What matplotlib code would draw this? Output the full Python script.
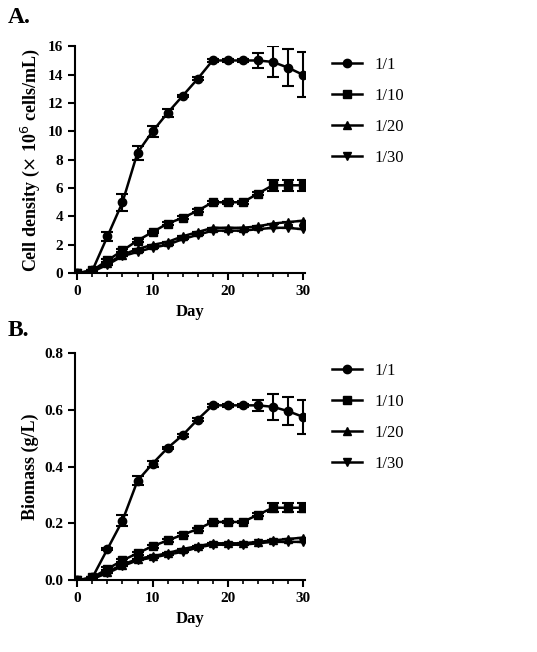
import matplotlib
matplotlib.use("Agg")
import matplotlib.pyplot as plt
from matplotlib.lines import Line2D

plt.rcParams['font.family'] = ['Liberation Serif', 'DejaVu Serif']

days = list(range(0, 31, 2))
labels = ["1/1", "1/10", "1/20", "1/30"]
markers = ["o", "s", "^", "v"]

cd_11 = [0, 0.2, 2.6, 5.0, 8.5, 10.0, 11.3, 12.5, 13.7, 15, 15, 15, 15, 14.9, 14.5, 14.0]
cd_11_err = [0, 0, 0.3, 0.6, 0.5, 0.4, 0.3, 0.1, 0.1, 0.1, 0.1, 0.1, 0.5, 1.1, 1.3, 1.6]
cd_110 = [0, 0.2, 0.9, 1.6, 2.3, 2.9, 3.5, 3.9, 4.4, 5.0, 5.0, 5.0, 5.6, 6.2, 6.2, 6.2]
cd_110_err = [0, 0, 0.1, 0.1, 0.1, 0.1, 0.1, 0.1, 0.1, 0.1, 0.1, 0.1, 0.1, 0.4, 0.4, 0.4]
cd_120 = [0, 0.15, 0.7, 1.3, 1.7, 2.0, 2.2, 2.6, 2.9, 3.2, 3.2, 3.2, 3.3, 3.5, 3.6, 3.7]
cd_130 = [0, 0.1, 0.6, 1.2, 1.5, 1.8, 2.0, 2.4, 2.7, 3.0, 3.0, 3.0, 3.1, 3.2, 3.2, 3.1]

bm_11 = [0, 0.01, 0.11, 0.21, 0.35, 0.41, 0.465, 0.51, 0.565, 0.615, 0.615, 0.615, 0.615, 0.61, 0.595, 0.575]
bm_11_err = [0, 0, 0.005, 0.02, 0.015, 0.01, 0.005, 0.005, 0.005, 0.005, 0.005, 0.005, 0.02, 0.045, 0.05, 0.06]
bm_110 = [0, 0.01, 0.04, 0.07, 0.095, 0.12, 0.14, 0.16, 0.18, 0.205, 0.205, 0.205, 0.23, 0.255, 0.255, 0.255]
bm_110_err = [0, 0, 0.005, 0.005, 0.005, 0.005, 0.005, 0.005, 0.005, 0.005, 0.005, 0.005, 0.005, 0.015, 0.015, 0.015]
bm_120 = [0, 0.005, 0.03, 0.055, 0.075, 0.085, 0.095, 0.11, 0.12, 0.13, 0.13, 0.13, 0.135, 0.14, 0.145, 0.15]
bm_130 = [0, 0.005, 0.025, 0.05, 0.07, 0.08, 0.09, 0.1, 0.115, 0.125, 0.125, 0.125, 0.13, 0.135, 0.135, 0.135]

fig = plt.figure(figsize=(5.37, 6.52), dpi=100)
axA = fig.add_axes([0.14, 0.581, 0.428, 0.348])
axB = fig.add_axes([0.14, 0.110, 0.428, 0.349])

def draw(ax, series, errs, ylim, yticks, ylabel, fmt):
    for s, e, lab, m in zip(series, errs, labels, markers):
        ax.errorbar(days, s, yerr=e, color='black', marker=m, markersize=6,
                    linewidth=1.8, capsize=4, elinewidth=1.5, capthick=1.5)
    ax.set_xlim(-0.3, 30.3)
    ax.set_ylim(*ylim)
    ax.set_xticks([0, 10, 20, 30])
    ax.set_xticks(range(0, 31, 2), minor=True)
    ax.set_yticks(yticks)
    ax.set_yticklabels([fmt(v) for v in yticks])
    for sp in ['top', 'right']:
        ax.spines[sp].set_visible(False)
    for sp in ['left', 'bottom']:
        ax.spines[sp].set_linewidth(1.5)
    ax.tick_params(width=1.5, length=5, labelsize=11)
    ax.tick_params(which='minor', width=1.2, length=3)
    for t in ax.get_xticklabels() + ax.get_yticklabels():
        t.set_fontweight('bold')
    ax.set_xlabel('Day', fontsize=12, fontweight='bold')
    ax.set_ylabel(ylabel, fontsize=13, fontweight='bold')
    handles = [Line2D([], [], color='black', marker=m, markersize=6, linewidth=1.8)
               for m in markers]
    ax.legend(handles, labels, loc='upper left', bbox_to_anchor=(1.05, 1.02), frameon=False,
              fontsize=12, handlelength=1.8, labelspacing=0.9)

draw(axA, [cd_11, cd_110, cd_120, cd_130], [cd_11_err, cd_110_err, 0, 0], (0, 16),
     list(range(0, 17, 2)), r'Cell density ($\times$ 10$^{6}$ cells/mL)', lambda v: f"{v:d}")
draw(axB, [bm_11, bm_110, bm_120, bm_130], [bm_11_err, bm_110_err, 0, 0], (0, 0.8),
     [0, 0.2, 0.4, 0.6, 0.8], 'Biomass (g/L)', lambda v: f"{v:.1f}")

fig.text(0.015, 0.965, 'A.', fontsize=17, fontweight='bold')
fig.text(0.015, 0.485, 'B.', fontsize=17, fontweight='bold')

fig.savefig('out.png', dpi=100)
